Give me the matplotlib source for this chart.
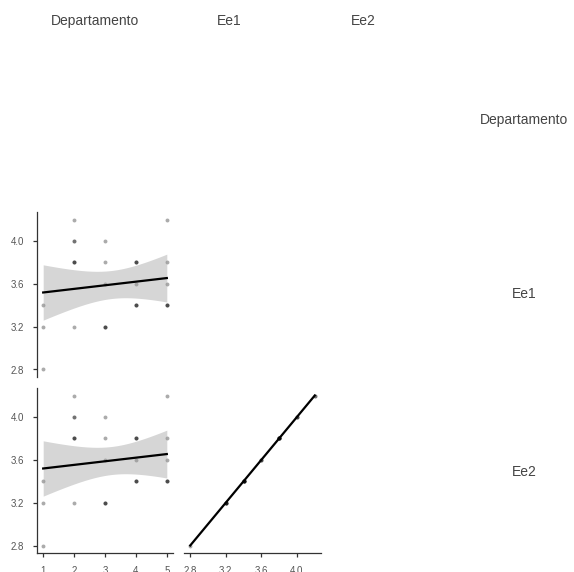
import numpy as np
import matplotlib
matplotlib.use("Agg")
import matplotlib.pyplot as plt

plt.rcParams["font.family"] = ["Liberation Sans", "DejaVu Sans"]

# data (repeated rows = overlapping points)
departamento = [1, 1, 1,
                2, 2, 2, 2, 2, 2, 2,
                3, 3, 3, 3, 3, 3,
                4, 4, 4, 4, 4, 4, 4,
                5, 5, 5, 5, 5, 5]
ee1 = [3.4, 3.2, 2.8,
       4.2, 4.0, 4.0, 3.8, 3.8, 3.8, 3.2,
       4.0, 3.8, 3.6, 3.2, 3.2, 3.2,
       3.8, 3.8, 3.8, 3.6, 3.4, 3.4, 3.4,
       4.2, 3.8, 3.6, 3.4, 3.4, 3.4]
ee2 = list(ee1)

variables = ["Departamento", "Ee1", "Ee2"]
dept_ticks = [1, 2, 3, 4, 5]
ee_ticks = [2.8, 3.2, 3.6, 4.0]

W, H = 574, 572
fig = plt.figure(figsize=(W / 100, H / 100), dpi=100)

AXIS_COL = "#333333"
TICK_COL = "#555555"


def px_axes(x0, y0, x1, y1):
    return fig.add_axes([x0 / W, 1 - y1 / H, (x1 - x0) / W, (y1 - y0) / H])


def lim(vals):
    lo, hi = min(vals), max(vals)
    pad = (hi - lo) * 0.05
    return lo - pad, hi + pad


def panel(ax, x, y, show_x, show_y, xticks, yticks):
    x = np.array(x, float)
    y = np.array(y, float)
    ax.scatter(x, y, s=8, color="black", alpha=0.33, linewidths=0, zorder=2)

    # linear fit with 95% CI
    n = len(x)
    b, a = np.polyfit(x, y, 1)
    xs = np.linspace(x.min(), x.max(), 100)
    fit = a + b * xs
    resid = y - (a + b * x)
    s = np.sqrt(np.sum(resid ** 2) / (n - 2))
    sxx = np.sum((x - x.mean()) ** 2)
    se = s * np.sqrt(1 / n + (xs - x.mean()) ** 2 / sxx)
    t = 2.052
    ax.fill_between(xs, fit - t * se, fit + t * se, color="#999999",
                    alpha=0.4, linewidth=0, zorder=3)
    ax.plot(xs, fit, color="black", lw=1.6, zorder=4)

    ax.set_xlim(*lim(x))
    ax.set_ylim(*lim(y))
    for sp in ["top", "right"]:
        ax.spines[sp].set_visible(False)
    ax.spines["left"].set_visible(show_y)
    ax.spines["bottom"].set_visible(show_x)
    for sp in ["left", "bottom"]:
        ax.spines[sp].set_color(AXIS_COL)
        ax.spines[sp].set_linewidth(0.9)
    ax.tick_params(colors=AXIS_COL, labelcolor=TICK_COL, labelsize=7,
                   length=3, width=0.9, pad=6.5)
    if show_x:
        ax.set_xticks(xticks)
        ax.set_xticklabels([f"{v:g}" if isinstance(v, int) else f"{v:.1f}" for v in xticks])
    else:
        ax.set_xticks([])
    if show_y:
        ax.set_yticks(yticks)
        ax.set_yticklabels([f"{v:.1f}" for v in yticks])
    else:
        ax.set_yticks([])
    ax.patch.set_visible(False)


ax_a = px_axes(37, 212, 173, 377)
panel(ax_a, departamento, ee1, False, True, dept_ticks, ee_ticks)

ax_b = px_axes(37, 388, 173, 553)
panel(ax_b, departamento, ee2, True, True, dept_ticks, ee_ticks)

ax_c = px_axes(184, 388, 321, 553)
panel(ax_c, ee1, ee2, True, False, ee_ticks, ee_ticks)

# column headers and row labels
for name, cx in zip(variables, [95.5, 229, 363]):
    fig.text(cx / W, 1 - 21 / H, name, ha="center", va="center",
             fontsize=10, color="#444444")
for name, cy in zip(variables, [120, 294, 472]):
    fig.text(524 / W, 1 - cy / H, name, ha="center", va="center",
             fontsize=10, color="#444444")

fig.savefig("out.png", dpi=100)
